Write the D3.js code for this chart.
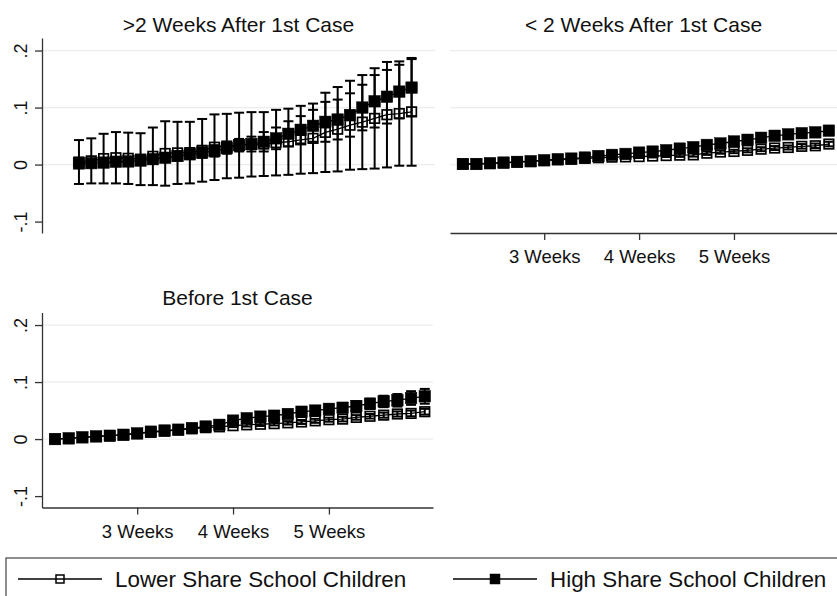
<!DOCTYPE html>
<html>
<head>
<meta charset="utf-8">
<script src="https://cdn.jsdelivr.net/npm/d3@7"></script>
<style>
  html, body { margin: 0; padding: 0; background: #fff; }
  svg { display: block; font-family: "Liberation Sans", Arial, sans-serif; }
</style>
</head>
<body>
<svg id="chart" width="837" height="596"></svg>
<script>
// Days since first case (x positions of each estimate)
const days = [15,16,17,18,19,20,21,22,23,24,25,26,27,28,29,30,31,32,33,34,35,36,37,38,39,40,41,42];

// Week tick labels on the x axis
const weekTicks = [21, 28, 35];
const weekLabels = ["3 Weeks", "4 Weeks", "5 Weeks"];

// y-axis ticks
const yTicks = [-0.1, 0, 0.1, 0.2];
const yTickLabels = ["-.1", "0", ".1", ".2"];
const yGrid = [0, 0.1, 0.2];

// Series names
const seriesNames = ["Lower Share School Children", "High Share School Children"];

// Panel titles
const panelTitles = [">2 Weeks After 1st Case", "< 2 Weeks After 1st Case", "Before 1st Case"];

// >2 weeks after first case: point estimates and CI half-widths
const lateLowMean = [0.0045,0.0065,0.0105,0.012,0.011,0.0095,0.0145,0.0195,0.0205,0.021,0.025,0.0305,0.0325,0.034,0.0355,0.036,0.0385,0.040,0.0435,0.046,0.0565,0.062,0.069,0.0745,0.081,0.0875,0.0895,0.0925];
const lateLowHalf = [0.0385,0.0395,0.0435,0.045,0.045,0.0455,0.0505,0.0565,0.0545,0.054,0.055,0.0575,0.0565,0.057,0.0565,0.056,0.0575,0.058,0.0595,0.061,0.0695,0.074,0.078,0.0825,0.088,0.0925,0.0915,0.0945];
const lateHighMean = [0.002,0.0025,0.0035,0.005,0.0055,0.007,0.0095,0.012,0.015,0.018,0.021,0.024,0.029,0.034,0.036,0.040,0.046,0.054,0.061,0.068,0.075,0.079,0.087,0.100,0.111,0.119,0.128,0.135];
const lateHighHalf = [0.004,0.004,0.005,0.005,0.006,0.006,0.007,0.007,0.008,0.008,0.009,0.010,0.010,0.011,0.013,0.017,0.019,0.022,0.024,0.028,0.035,0.035,0.038,0.040,0.046,0.047,0.047,0.050];

// <2 weeks after first case
const earlyLowMean = [0.001,0.001,0.002,0.003,0.0045,0.0055,0.007,0.0085,0.0095,0.011,0.012,0.013,0.0135,0.014,0.015,0.0158,0.0165,0.017,0.020,0.022,0.023,0.025,0.027,0.029,0.030,0.032,0.033,0.036];
const earlyLowHalf = [0.001,0.001,0.001,0.001,0.0015,0.0015,0.0015,0.002,0.002,0.002,0.002,0.002,0.0025,0.0025,0.0025,0.0025,0.003,0.003,0.003,0.003,0.003,0.0035,0.0035,0.0035,0.0035,0.004,0.004,0.004];
const earlyHighMean = [0.001,0.001,0.0023,0.0035,0.0047,0.0058,0.0076,0.0094,0.0105,0.0123,0.015,0.017,0.0187,0.021,0.0228,0.0251,0.028,0.0305,0.0345,0.037,0.0405,0.0435,0.047,0.0505,0.053,0.055,0.0565,0.0595];
const earlyHighHalf = [0.001,0.001,0.001,0.0015,0.0015,0.0015,0.002,0.002,0.002,0.0025,0.0025,0.003,0.003,0.003,0.0035,0.0035,0.004,0.004,0.0045,0.0045,0.005,0.005,0.0055,0.0055,0.006,0.006,0.0065,0.007];

// Before first case
const preLowMean = [0,0.0012,0.003,0.0045,0.0057,0.0072,0.0095,0.012,0.014,0.016,0.018,0.020,0.0215,0.0235,0.025,0.026,0.027,0.0285,0.030,0.032,0.034,0.035,0.038,0.040,0.042,0.044,0.045,0.048];
const preLowHalf = [0.001,0.001,0.001,0.001,0.0015,0.0015,0.0015,0.002,0.002,0.002,0.002,0.0025,0.0025,0.0025,0.003,0.003,0.003,0.003,0.0035,0.0035,0.0035,0.004,0.004,0.004,0.0045,0.0045,0.005,0.005];
const preHighMean = [0,0.0012,0.003,0.0047,0.0059,0.0076,0.010,0.013,0.015,0.0165,0.0194,0.022,0.025,0.0324,0.0365,0.0394,0.041,0.044,0.048,0.050,0.053,0.055,0.058,0.062,0.066,0.068,0.072,0.075];
const preHighHalf = [0.001,0.001,0.0015,0.002,0.002,0.0025,0.003,0.003,0.0035,0.004,0.004,0.0045,0.005,0.005,0.0055,0.006,0.006,0.0065,0.007,0.007,0.0075,0.008,0.0085,0.009,0.010,0.011,0.012,0.013];

const svg = d3.select("#chart");
const yDomain = [-0.12, 0.222];

const panels = [
  { title: panelTitles[0], low: [lateLowMean, lateLowHalf], high: [lateHighMean, lateHighHalf],
    xr: [42, 435], yr: [233, 38], xd: [12.0, 43.9], showY: true, showX: false, titleY: 31.5 },
  { title: panelTitles[1], low: [earlyLowMean, earlyLowHalf], high: [earlyHighMean, earlyHighHalf],
    xr: [450, 837], yr: [233, 38], xd: [14.05, 42.6], showY: false, showX: true, titleY: 31.5 },
  { title: panelTitles[2], low: [preLowMean, preLowHalf], high: [preHighMean, preHighHalf],
    xr: [42, 433], yr: [507.5, 312.5], xd: [14.05, 42.6], showY: true, showX: true, titleY: 305 }
];

const ink = "#000";
const axisInk = "#333";
const gridInk = "#ececec";

function drawSeries(g, x, y, mean, half, filled) {
  const pts = days.map((d, i) => ({ d, m: mean[i], h: half[i] }));
  const capW = 10;
  // confidence intervals
  const ci = g.append("g").attr("stroke", ink).attr("stroke-width", 2).attr("fill", "none");
  pts.forEach(p => {
    const cx = x(p.d), y0 = y(p.m - p.h), y1 = y(p.m + p.h);
    ci.append("line").attr("x1", cx).attr("x2", cx).attr("y1", y0).attr("y2", y1);
    ci.append("line").attr("x1", cx - capW / 2).attr("x2", cx + capW / 2).attr("y1", y0).attr("y2", y0);
    ci.append("line").attr("x1", cx - capW / 2).attr("x2", cx + capW / 2).attr("y1", y1).attr("y2", y1);
  });
  // connecting line
  g.append("path")
    .attr("d", d3.line().x(p => x(p.d)).y(p => y(p.m))(pts))
    .attr("fill", "none").attr("stroke", ink).attr("stroke-width", 1.3);
  // markers
  const s = filled ? 11.5 : 9.5;
  g.append("g").selectAll("rect").data(pts).join("rect")
    .attr("x", p => x(p.d) - s / 2).attr("y", p => y(p.m) - s / 2)
    .attr("width", s).attr("height", s)
    .attr("fill", filled ? ink : "none")
    .attr("stroke", ink).attr("stroke-width", filled ? 0.5 : 1.7);
}

panels.forEach(P => {
  const x = d3.scaleLinear().domain(P.xd).range(P.xr);
  const y = d3.scaleLinear().domain(yDomain).range(P.yr);
  const g = svg.append("g");

  // gridlines
  g.append("g").selectAll("line").data(yGrid).join("line")
    .attr("x1", P.xr[0]).attr("x2", P.xr[1])
    .attr("y1", d => y(d)).attr("y2", d => y(d))
    .attr("stroke", gridInk).attr("stroke-width", 1.2);

  // title
  g.append("text").attr("x", (P.xr[0] + P.xr[1]) / 2).attr("y", P.titleY)
    .attr("text-anchor", "middle").attr("font-size", 21).attr("fill", "#111")
    .text(P.title);

  // y axis
  if (P.showY) {
    const ya = g.append("g").attr("transform", `translate(${P.xr[0]},0)`)
      .call(d3.axisLeft(y).tickValues(yTicks).tickSize(7).tickSizeOuter(0)
        .tickFormat((d, i) => yTickLabels[i]));
    ya.select(".domain").attr("stroke", axisInk).attr("stroke-width", 1.3);
    ya.selectAll(".tick line").attr("stroke", axisInk).attr("stroke-width", 1.3);
    ya.selectAll(".tick text")
      .attr("font-size", 18).attr("fill", "#111")
      .attr("font-family", "Liberation Sans, Arial, sans-serif")
      .attr("text-anchor", "middle")
      .attr("x", null).attr("dy", null)
      .attr("transform", "translate(-15,0) rotate(-90)");
  }

  // x axis
  if (P.showX) {
    const xa = g.append("g").attr("transform", `translate(0,${P.yr[0]})`)
      .call(d3.axisBottom(x).tickValues(weekTicks).tickSize(7).tickSizeOuter(0)
        .tickFormat((d, i) => weekLabels[i]));
    xa.select(".domain").attr("stroke", axisInk).attr("stroke-width", 1.3);
    xa.selectAll(".tick line").attr("stroke", axisInk).attr("stroke-width", 1.3);
    xa.selectAll(".tick text")
      .attr("font-size", 18.5).attr("fill", "#111")
      .attr("font-family", "Liberation Sans, Arial, sans-serif")
      .attr("y", 30).attr("dy", null);
  }

  drawSeries(g, x, y, P.low[0], P.low[1], false);
  drawSeries(g, x, y, P.high[0], P.high[1], true);
});

// legend
const lg = svg.append("g");
lg.append("rect").attr("x", 6).attr("y", 558).attr("width", 860).attr("height", 80)
  .attr("fill", "none").attr("stroke", "#444").attr("stroke-width", 1.2);
const legendItems = [
  { name: seriesNames[0], x0: 18, filled: false },
  { name: seriesNames[1], x0: 453, filled: true }
];
legendItems.forEach(it => {
  const cy = 579;
  lg.append("line").attr("x1", it.x0).attr("x2", it.x0 + 84).attr("y1", cy).attr("y2", cy)
    .attr("stroke", ink).attr("stroke-width", 1.4);
  const s = it.filled ? 10 : 8;
  lg.append("rect").attr("x", it.x0 + 42 - s / 2).attr("y", cy - s / 2).attr("width", s).attr("height", s)
    .attr("fill", it.filled ? ink : "none").attr("stroke", ink).attr("stroke-width", it.filled ? 0.5 : 1.5);
  lg.append("text").attr("x", it.x0 + 97).attr("y", cy + 8).attr("font-size", 22.4).attr("fill", "#111")
    .text(it.name);
});
</script>
</body>
</html>
